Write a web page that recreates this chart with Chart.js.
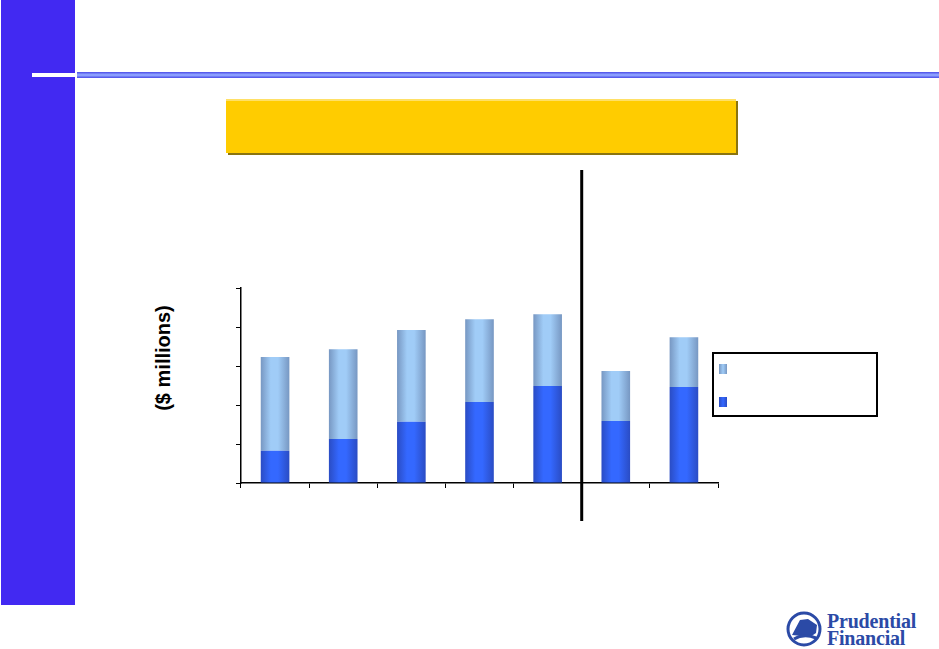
<!DOCTYPE html>
<html>
<head>
<meta charset="utf-8">
<script src="https://cdn.jsdelivr.net/npm/chart.js@4.4.1/dist/chart.umd.min.js"></script>
<style>
  html,body{margin:0;padding:0;background:#fff;}
  body{width:939px;height:649px;position:relative;overflow:hidden;font-family:Arial,"Liberation Sans",sans-serif;}
  #side{position:absolute;left:1px;top:0;width:74px;height:605px;background:#4229f2;}
  #rule{position:absolute;left:77px;top:72px;width:862px;height:6px;
        background:linear-gradient(#4a4ae8,#8fa4ff 45%,#8fa4ff 55%,#4a4ae8);}
  #rule-w{position:absolute;left:32px;top:73px;width:45px;height:4px;background:#fff;}
  #banner{position:absolute;left:226px;top:99px;width:510px;height:52px;background:#ffcc00;
          border-top:2px solid #ffe066;box-shadow:2px 2px 0 #8a7410;}
  #ylab{position:absolute;left:163px;top:358px;transform:translate(-50%,-50%) rotate(-90deg);
        font-weight:bold;font-size:20px;white-space:nowrap;color:#000;}
  #wrap{position:absolute;left:200px;top:160px;width:540px;height:380px;}
  #legend{position:absolute;left:712px;top:352px;width:162px;height:61px;border:2px solid #000;background:#fff;}
  .sw{position:absolute;left:5px;width:8px;height:10px;}
  #logo{position:absolute;left:786px;top:610px;width:140px;height:38px;}
  #logo .t{position:absolute;left:41px;font-family:"Liberation Serif","DejaVu Serif",serif;font-weight:bold;
           color:#2b4aa6;font-size:20px;line-height:18px;letter-spacing:-0.2px;}
</style>
</head>
<body>
<div id="side"></div>
<div id="rule"></div>
<div id="rule-w"></div>
<div id="banner"></div>
<div id="ylab">($ millions)</div>
<div id="wrap"><canvas id="chart"></canvas></div>
<div id="legend"></div>
<div id="logo">
  <svg width="38" height="36" viewBox="0 0 38 36" style="position:absolute;left:0;top:1px">
    <circle cx="18" cy="18" r="16" fill="none" stroke="#2b4aa6" stroke-width="3"/>
    <path d="M6 24 L14 9 L22 8 L31 14 L30 22 L24 26 L16 25 Z" fill="#2b4aa6"/>
    <path d="M8 28 Q18 22 30 27" stroke="#2b4aa6" stroke-width="3" fill="none"/>
  </svg>
  <div class="t" style="top:2px">Prudential</div>
  <div class="t" style="top:19px">Financial</div>
</div>

<script>
// ── DATOS ───────────────────────────────────────────────
const CATEGORIES = ['1', '2', '3', '4', '5', '6', '7'];
const BASE_VALUES  = [8.3, 11.3, 15.7, 20.8, 24.9, 15.9, 24.6];
const UPPER_VALUES = [24.0, 23.0, 23.5, 21.2, 18.4, 12.8, 12.8];
const Y_TICKS = [0, 10, 20, 30, 40, 50];
const SERIES_NAMES = ['', ''];

// colores: borde / centro del degradado horizontal de cada barra
const COLORS = {
  upper: { edge:'#7797c2', mid:'#a0ccf7' },
  base:  { edge:'#2a4cc4', mid:'#3468ff' },
};

// ── UTILS ───────────────────────────────────────────────
function barGradient(pal){
  return function(ctx){
    const chart = ctx.chart;
    const x = chart.scales.x;
    if(!chart.chartArea || !x || ctx.dataIndex === undefined) return pal.mid;
    const cx = x.getPixelForValue(ctx.dataIndex);
    const w = (x.width / CATEGORIES.length) * 0.42;
    const g = chart.ctx.createLinearGradient(cx - w/2, 0, cx + w/2, 0);
    g.addColorStop(0, pal.edge);
    g.addColorStop(0.35, pal.mid);
    g.addColorStop(0.6, pal.mid);
    g.addColorStop(1, pal.edge);
    return g;
  };
}

// separador vertical entre la 5ª y 6ª categoría
const dividerPlugin = {
  id:'divider',
  afterDraw(chart){
    const x = chart.scales.x, a = chart.chartArea, c = chart.ctx;
    const px = (x.getPixelForValue(4) + x.getPixelForValue(5)) / 2;
    c.save();
    c.strokeStyle = '#000';
    c.lineWidth = 3;
    c.beginPath();
    c.moveTo(px, a.top - 118);
    c.lineTo(px, a.bottom + 38);
    c.stroke();
    c.restore();
  }
};

// ── GRÁFICO ─────────────────────────────────────────────
const chart = new Chart(document.getElementById('chart'), {
  type:'bar',
  data:{
    labels: CATEGORIES,
    datasets:[
      { label:SERIES_NAMES[1], data:BASE_VALUES,  backgroundColor:barGradient(COLORS.base),  stack:'s' },
      { label:SERIES_NAMES[0], data:UPPER_VALUES, backgroundColor:barGradient(COLORS.upper), stack:'s' },
    ]
  },
  options:{
    responsive:true,
    maintainAspectRatio:false,
    animation:false,
    barPercentage:0.42,
    categoryPercentage:1,
    layout:{ padding:{ top:128, right:22, bottom:0, left:0 } },
    plugins:{ legend:{ display:false }, tooltip:{ enabled:false } },
    scales:{
      x:{
        stacked:true,
        grid:{ display:true, drawOnChartArea:false, drawTicks:true, tickLength:5, color:'#000', offset:true },
        border:{ color:'#000', width:1.5 },
        ticks:{ display:false },
        afterFit(s){ s.height = 57; }
      },
      y:{
        stacked:true,
        min:Y_TICKS[0], max:Y_TICKS[Y_TICKS.length-1],
        afterBuildTicks(s){ s.ticks = Y_TICKS.map(v=>({ value:v })); },
        grid:{ display:true, drawOnChartArea:false, drawTicks:true, tickLength:5, color:'#000' },
        border:{ color:'#000', width:1.5 },
        ticks:{ display:false },
        afterFit(s){ s.width = 41; }
      }
    }
  },
  plugins:[dividerPlugin]
});

// ── LEYENDA ─────────────────────────────────────────────
document.getElementById('legend').innerHTML = `
  <div class="sw" style="top:10px;background:linear-gradient(90deg,${COLORS.upper.edge},${COLORS.upper.mid},${COLORS.upper.edge})"></div>
  <div class="sw" style="top:43px;background:linear-gradient(90deg,${COLORS.base.edge},${COLORS.base.mid},${COLORS.base.edge})"></div>
`;
</script>
</body>
</html>
